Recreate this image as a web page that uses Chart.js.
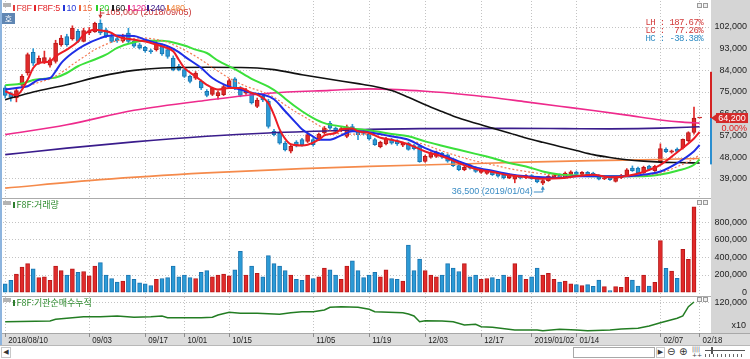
<!DOCTYPE html>
<html lang="ko"><head><meta charset="utf-8">
<script src="https://cdn.jsdelivr.net/npm/chart.js@4.4.1/dist/chart.umd.min.js"></script>
<style>
html,body{margin:0;padding:0;background:#fff;}
#wrap{position:relative;width:750px;height:359px;overflow:hidden;font-family:"Liberation Sans",Arial,sans-serif;}
.a{position:absolute;}
canvas{position:absolute;left:0;}
.kr{font-family:"Noto Sans CJK KR","Liberation Sans",sans-serif;}
.lg{position:absolute;top:3px;font-size:9px;line-height:10px;white-space:nowrap;letter-spacing:-0.2px;}
.lg i{display:inline-block;width:2px;height:6px;margin-right:1.5px;}
.pl{position:absolute;font-size:9px;line-height:10px;white-space:nowrap;color:#2e8b2e;}
.pl i{display:inline-block;width:2px;height:6px;margin-right:1.5px;background:#2e7d2e;}
.stat{position:absolute;right:47px;font-size:9px;line-height:9px;white-space:pre;font-family:"Liberation Mono",monospace;letter-spacing:-0.6px;}
.ico{position:absolute;width:3px;height:3px;border:1px solid #9a9a9a;background:#eee;}
.gic{position:absolute;width:8px;height:4px;background:#b3b3b3;}
</style></head><body>
<div id="wrap">
<div class="a" style="left:711px;top:0;width:39px;height:333px;background:#d5d5d5"></div>
<div class="a" style="left:0;top:333px;width:750px;height:12px;background:#dcdcdc;border-top:1px solid #a8a8a8;box-sizing:border-box"></div>
<canvas id="c1" width="750" height="199" style="top:0"></canvas>
<canvas id="c2" width="750" height="98" style="top:199px"></canvas>
<canvas id="c3" width="750" height="48" style="top:297px"></canvas>

<div class="a" style="left:0;top:0;width:2px;height:345px;background:#8db4de"></div>
<div class="a" style="left:2px;top:198px;width:709px;height:1px;background:#ababab"></div>
<div class="a" style="left:2px;top:296px;width:709px;height:1px;background:#ababab"></div>

<!-- legend -->
<div class="gic" style="left:3px;top:3px"></div>
<div class="lg" style="left:13px;color:#e33b3b"><i style="background:#e33b3b"></i>F8F</div>
<div class="lg" style="left:34px;color:#e3262b"><i style="background:#e3262b"></i>F8F:5</div>
<div class="lg" style="left:63px;color:#2436d8"><i style="background:#2436d8"></i>10</div>
<div class="lg" style="left:79px;color:#ee6a3c"><i style="background:#ee6a3c"></i>15</div>
<div class="lg" style="left:96px;color:#2ccf2c"><i style="background:#2ccf2c"></i>20</div>
<div class="lg" style="left:112px;color:#222"><i style="background:#222"></i>60</div>
<div class="lg" style="left:128px;color:#e5268a"><i style="background:#e5268a"></i>120</div>
<div class="lg" style="left:147px;color:#3a1d8a"><i style="background:#3a1d8a"></i>240</div>
<div class="lg" style="left:167px;color:#f0883e"><i style="background:#f0883e"></i>480</div>
<div class="a kr" style="left:2px;top:13px;width:13px;height:11px;background:#5f86b3;color:#fff;font-size:8px;line-height:11px;text-align:center">호</div>

<div class="stat" style="top:19px;color:#d23a3a">LH : 187.67%</div>
<div class="stat" style="top:27px;color:#d23a3a">LC :  77.26%</div>
<div class="stat" style="top:35px;color:#2f8cc4">HC : -38.38%</div>

<div class="ico" style="left:697px;top:3px"></div><div class="ico" style="left:703px;top:3px"></div>
<div class="ico" style="left:697px;top:200px"></div><div class="ico" style="left:703px;top:200px"></div>
<div class="ico" style="left:697px;top:297px"></div><div class="ico" style="left:703px;top:297px"></div>

<div class="gic" style="left:3px;top:201px"></div>
<div class="pl kr" style="left:13px;top:200px"><i></i>F8F:거래량</div>
<div class="gic" style="left:3px;top:298px"></div>
<div class="pl kr" style="left:13px;top:298px"><i></i>F8F:기관순매수누적</div>

<!-- bottom bar -->
<div class="a" style="left:0;top:345px;width:750px;height:14px;background:#fff;border-top:1px solid #b8b8b8;box-sizing:border-box"></div>
<div class="a" style="left:1px;top:347px;width:10px;height:11px;border:1px solid #c8c8c8;box-sizing:border-box;font-size:7px;line-height:9px;text-align:center;color:#333;font-family:'DejaVu Sans'">◀</div>
<div class="a" style="left:573px;top:347px;width:82px;height:11px;border:1px solid #a8a8a8;box-sizing:border-box;background:#fff"></div>
<div class="a" style="left:656px;top:347px;width:9px;height:11px;border:1px solid #c8c8c8;box-sizing:border-box;font-size:7px;line-height:9px;text-align:center;color:#333;font-family:'DejaVu Sans'">▶</div>
<div class="a" style="left:667px;top:345px;font-size:10px;line-height:13px;color:#333;font-family:'DejaVu Sans'">⊖</div>
<div class="a" style="left:679px;top:345px;font-size:10px;line-height:13px;color:#333;font-family:'DejaVu Sans'">⊕</div>
<div class="a" style="left:692px;top:346px;font-size:6px;line-height:6px;color:#444;font-family:'DejaVu Sans'">||||<br>++</div>
<div class="a" style="left:705px;top:350px;width:40px;height:1px;background:#555"></div>
<div class="a" style="left:711px;top:347px;width:2px;height:7px;background:#555"></div>
<div class="a" style="left:705px;top:354px;width:40px;height:3px;background:repeating-linear-gradient(90deg,#666 0 1px,transparent 1px 4px)"></div>
</div>

<script>
// ---------- data ----------
const dateIdx = [0,15,25,32,40,55,65,75,85,94,102,117,124];
const dateLabels = ['2018/08/10','09/03','09/17','10/01','10/15','11/05','11/19','12/03','12/17','2019/01/02','01/14','02/07','02/18'];
const priceTicks = [39000,48000,57000,66000,75000,84000,93000,102000];
const volumeTicks = [0,200000,400000,600000,800000];
const cumTicks = [120000];
const cumUnit = 'x10';

const opens = [76700,74200,72500,77800,82900,91500,87000,87200,86100,87700,
94600,98000,97000,100200,96000,99500,100000,103500,100800,98000,
97200,96100,99500,96000,94600,93600,92000,92600,94000,92600,
89100,85700,84300,81500,80800,79400,75300,74000,73500,73900,
77300,80500,76700,74500,74200,69000,73200,71100,58700,58000,
53800,50400,54200,55200,54500,55200,55300,58000,62000,60000,
59000,56600,60600,58700,58800,57500,55200,52300,53400,55200,
54800,52900,53800,52800,52600,46200,47900,48300,49500,48900,
46900,44500,42800,44800,43700,41600,41200,42000,41300,40600,
39300,38800,40000,39300,40300,39200,37100,38200,39600,40500,
39800,40800,41800,40800,41600,41300,40400,38900,39500,37900,
39300,40400,43400,43400,41400,44200,42300,46000,51200,50000,
51300,51800,54800,58200,64200];
const highs = [77700,75000,76500,82200,91200,93000,90000,92000,89200,96500,
98500,99000,102500,101000,101500,101800,104000,105000,101500,99000,
98000,99000,101500,96500,95200,94000,92800,96000,95000,93500,
90000,86500,85000,82000,83500,80000,76000,77000,75500,78000,
80500,81000,77300,76500,75000,72500,74000,72000,59500,58700,
54500,53000,54800,55800,58000,56000,58000,60700,62800,60500,
60500,61300,61600,59500,59500,58000,55800,54600,56200,55800,
55200,54200,54200,53300,53000,48800,50200,50500,50000,49300,
47300,45000,44200,45300,44000,43000,42500,42400,41700,41000,
41000,40600,40400,40700,40700,39500,38600,40400,41000,41000,
41800,42300,42200,42000,42000,41700,40700,39800,39800,39700,
40800,43200,44300,43800,44200,44600,44600,53500,51800,50900,
51800,55500,58500,68700,64200];
const lows = [72500,71200,70900,77000,82000,86000,86500,86800,85300,87000,
94000,94000,96500,95500,95800,98800,99800,98800,97600,95500,
95600,95600,95500,93500,92800,91500,91000,92000,90200,89000,
83800,83800,81000,78800,80200,76000,73000,73500,72000,73500,
77000,76000,73000,74000,70000,68500,71000,60000,56800,53300,
50500,49700,52200,52500,54000,52500,54800,57500,59500,58000,
58500,56000,59000,55200,57200,55000,52800,51800,53000,53300,
52800,52300,50800,51000,45800,45800,47500,47800,47400,45800,
44000,42300,42300,43000,41600,41200,40800,40300,39600,38900,
39000,37300,38900,39000,38700,37300,36500,37900,39200,39000,
39500,40500,40500,40500,40400,40300,38500,38600,38300,37600,
39000,40200,42000,41000,41200,42500,42000,45600,49800,49600,
49800,51300,54300,57500,64200];
const closes = [73600,72800,75600,81500,90500,87000,89000,89300,88400,95300,
97400,94700,101500,96000,100500,100400,103500,99500,98300,96000,
96200,98000,96000,94000,93300,92200,91800,95300,90800,89800,
84300,84300,81500,79400,82900,76700,73600,76500,74800,77300,
79700,76700,73600,75600,70500,71700,71700,60700,57300,53800,
51000,52400,52800,53100,57300,53100,57500,60000,60000,58600,
59800,60500,59400,57300,57800,55500,53100,54100,55500,53800,
53400,53700,51200,51500,46100,48300,49700,50100,47900,46300,
44400,42800,43700,43400,42000,42700,42000,40700,40000,39300,
40400,40100,39300,40300,39000,37700,38200,40000,40500,39400,
41300,41900,40800,41600,40700,40600,38800,39400,38600,39400,
40400,42700,42300,41400,43700,42900,44100,51500,50200,50600,
50300,55300,58200,64200,64200];
const volumes = [100000,140000,210000,290000,330000,270000,170000,180000,140000,300000,
250000,200000,270000,230000,240000,190000,300000,340000,200000,160000,
120000,130000,200000,150000,110000,100000,80000,150000,160000,170000,
300000,180000,200000,170000,160000,230000,250000,180000,200000,210000,
190000,260000,470000,200000,300000,220000,180000,420000,330000,300000,
250000,200000,150000,140000,200000,160000,180000,280000,260000,200000,
150000,300000,360000,250000,170000,200000,230000,180000,260000,160000,
150000,130000,540000,250000,380000,250000,200000,180000,200000,330000,
280000,240000,330000,180000,200000,150000,160000,170000,150000,200000,
180000,330000,200000,150000,180000,280000,200000,220000,150000,120000,
130000,100000,90000,80000,90000,70000,143000,67000,22000,67000,
60000,174000,143000,75000,200000,75000,117000,590000,276000,245000,
162000,492000,378000,976000,0];

// moving averages: [index, value]
const ma5 = [[0,75300],[2,73600],[4,80100],[5,85000],[6,87000],[8,87700],[9,89800],[11,92600],[13,96000],[14,98800],[16,100900],[18,100200],[19,99500],[20,98100],[23,96700],[25,96000],[27,94700],[28,94000],[30,91900],[31,88400],[32,85000],[34,81500],[36,78000],[38,76000],[40,76700],[42,76700],[44,74600],[45,73900],[47,70400],[48,65500],[49,59500],[50,55500],[51,53300],[53,52800],[54,53100],[56,55200],[57,57000],[59,58000],[60,59400],[62,59800],[63,58700],[65,58000],[67,56000],[69,55200],[72,53300],[75,50300],[78,48300],[81,45500],[84,43000],[87,41800],[90,40400],[93,39700],[96,39000],[99,39200],[102,40000],[105,40600],[108,39600],[111,40100],[114,41800],[117,44700],[120,50000],[123,55700],[124,58400]];
const ma10 = [[0,76000],[2,76700],[4,77400],[6,80100],[8,80800],[9,83600],[10,87000],[12,91200],[14,94300],[17,97400],[19,98500],[21,98400],[23,98300],[25,96700],[27,95400],[29,94000],[31,91600],[32,89800],[35,85000],[37,80800],[40,77200],[42,76000],[44,74600],[46,73900],[48,72000],[50,67000],[52,62000],[53,59500],[55,56500],[56,55200],[58,55200],[60,57000],[62,58700],[64,58600],[66,57900],[69,56600],[72,55200],[75,51700],[78,49000],[81,46200],[84,43700],[87,42300],[90,40900],[93,40000],[96,39600],[99,39300],[102,40000],[105,40000],[108,40000],[111,40000],[114,40700],[117,42000],[120,45500],[123,50400],[124,53000]];
const ma15 = [[0,76000],[3,77000],[6,79000],[8,80500],[10,83000],[12,86400],[14,89500],[16,92600],[18,94800],[20,96300],[23,97300],[25,97400],[27,96800],[29,95600],[31,93600],[33,91200],[35,88400],[37,85200],[40,80800],[43,77400],[46,75000],[48,72800],[50,69600],[52,66600],[54,63900],[57,59900],[60,57600],[63,57500],[66,57300],[69,56800],[72,55000],[75,53100],[78,50500],[81,48300],[84,46300],[87,44800],[90,43200],[93,42000],[96,41000],[99,40200],[102,40000],[105,40000],[108,40000],[111,40000],[114,40400],[117,41400],[120,44000],[123,47300],[124,49000]];
const ma20 = [[0,77800],[3,78500],[5,80000],[7,80500],[9,81000],[11,82900],[13,85700],[16,88500],[18,90500],[20,93300],[23,95700],[26,96300],[28,96300],[30,95600],[32,94300],[34,92600],[36,91200],[38,88000],[41,84500],[44,80500],[47,77200],[49,74200],[50,72200],[53,67000],[55,64200],[57,62100],[60,60700],[62,59900],[64,59300],[66,58700],[69,57600],[72,56600],[75,54500],[78,52700],[81,51000],[84,49300],[87,47600],[90,45500],[93,44100],[96,42000],[99,40700],[102,40300],[105,40000],[108,40000],[111,40000],[114,40000],[117,40700],[120,42300],[123,44800],[124,47000]];
const ma60 = [[0,71800],[5,75000],[11,78000],[17,81500],[23,84000],[28,85000],[36,85300],[41,85200],[45,85000],[48,84300],[53,82200],[58,80300],[63,78500],[66,77300],[69,75600],[72,72800],[75,69700],[78,66900],[81,64200],[84,62000],[87,60000],[90,58000],[93,55900],[96,54100],[99,52400],[102,50700],[105,49000],[108,47800],[111,46900],[114,46300],[117,45900],[120,45700],[124,45500]];
const ma120 = [[0,57300],[11,61400],[23,67400],[36,71600],[47,74500],[58,75700],[65,76300],[70,76000],[75,75300],[81,74200],[87,72700],[93,70900],[99,69100],[105,67300],[111,65400],[117,63400],[121,62500],[124,62100]];
const ma240 = [[0,49000],[11,51700],[23,54300],[36,56600],[47,58000],[58,58900],[65,59500],[75,59800],[90,59900],[100,59800],[108,59700],[113,59800],[117,60000],[124,60600]];
const ma480 = [[0,35100],[17,38600],[36,41400],[53,43200],[65,44100],[81,45100],[93,45900],[105,46500],[117,47000],[124,47400]];
const cumPts = [[0,19600],[8,23300],[9,32300],[11,37600],[14,46000],[17,46000],[20,49700],[23,42900],[26,46000],[28,49700],[29,40700],[35,40700],[37,42900],[38,55000],[40,69300],[42,64000],[45,64000],[49,58700],[51,67100],[53,72400],[55,72400],[57,81400],[58,95600],[60,98800],[63,95600],[65,85100],[66,72400],[71,67100],[72,60300],[73,49700],[74,19600],[75,25000],[78,23300],[80,19600],[82,2200],[84,5900],[85,-6700],[87,-9900],[91,-24200],[95,-24200],[96,-27900],[99,-20500],[102,-24200],[104,-27900],[108,-24200],[110,-18900],[113,-15200],[115,-3100],[117,14400],[120,37600],[121,49700],[122,98800],[123,123600]];

const highMark = {idx:17, value:105000, text:'105,000 (2018/09/05)'};
const lowMark = {idx:96, value:36500, text:'36,500 (2019/01/04)'};
const lastPrice = 64200, changePct = '0.00%', limitUp = 83400, limitDown = 44950;

// ---------- helpers ----------
const fmt = v => String(v).replace(/\B(?=(\d{3})+(?!\d))/g, ',');
const idx = opens.map((_, i) => i);
const isUp = idx.map(i => closes[i] >= opens[i]);
const fillCol = isUp.map(u => u ? '#e12a2a' : '#2b9ad6');
const edgeCol = isUp.map(u => u ? '#b81818' : '#1a74b0');
const X_MIN = -0.393, X_MAX = 125.857;
const GRID = '#c3c3c3';
const FONT = '9px "Liberation Sans"';

function xAxis(extra) {
  return Object.assign({
    type: 'linear', min: X_MIN, max: X_MAX, offset: false,
    afterBuildTicks: s => { s.ticks = dateIdx.map(v => ({value: v})); },
    ticks: {display: false},
    grid: {color: GRID, lineWidth: 1, drawTicks: false, offset: false},
    border: {display: false, dash: [1, 2]}
  }, extra || {});
}
function yAxis(min, max, ticks, gridColor) {
  return {
    position: 'right', min: min, max: max,
    afterBuildTicks: s => { s.ticks = ticks.map(v => ({value: v})); },
    afterFit: s => { s.width = 40; },
    ticks: {display: false},
    grid: {color: gridColor || GRID, drawTicks: false},
    border: {display: false, dash: [1, 2]}
  };
}
function baseOpts(pad, scales) {
  return {responsive: false, animation: false, devicePixelRatio: 1, events: [],
    layout: {padding: pad},
    plugins: {legend: {display: false}, tooltip: {enabled: false}},
    scales: scales};
}
function lineDs(pts, color, width, dash) {
  return {type: 'line', data: pts.map(p => ({x: p[0], y: p[1]})), borderColor: color, borderWidth: width,
    borderDash: dash || [], pointRadius: 0, fill: false, cubicInterpolationMode: 'monotone', order: 0};
}
function drawRightLabels(ctx, scale, items) {
  ctx.save();
  ctx.font = FONT; ctx.fillStyle = '#1e1e1e'; ctx.textAlign = 'right'; ctx.textBaseline = 'middle';
  items.forEach(v => ctx.fillText(fmt(v), 747, scale.getPixelForValue(v)));
  ctx.restore();
}

// ---------- price chart ----------
const priceDeco = {
  id: 'priceDeco',
  afterDraw(chart) {
    const {ctx} = chart, x = chart.scales.x, y = chart.scales.y;
    drawRightLabels(ctx, y, priceTicks);
    ctx.save();
    const yc = y.getPixelForValue(lastPrice), yu = y.getPixelForValue(limitUp), yl = y.getPixelForValue(limitDown);
    ctx.fillStyle = '#d42222'; ctx.fillRect(710, yu, 2, yc - yu);
    ctx.fillStyle = '#2a8ed0'; ctx.fillRect(710, yc, 2, yl - yc);
    ctx.fillStyle = '#d42a2a';
    ctx.beginPath(); ctx.moveTo(711, yc); ctx.lineTo(716, yc - 3.5); ctx.lineTo(716, yc + 3.5); ctx.closePath(); ctx.fill();
    ctx.fillRect(716, yc - 5, 32, 10);
    ctx.font = FONT; ctx.textBaseline = 'middle';
    ctx.fillStyle = '#fff'; ctx.textAlign = 'center'; ctx.fillText(fmt(lastPrice), 732, yc);
    ctx.fillStyle = '#e02020'; ctx.textAlign = 'right'; ctx.fillText(changePct, 747, yc + 10);
    // high annotation
    const xh = x.getPixelForValue(highMark.idx), yh = y.getPixelForValue(highMark.value);
    ctx.strokeStyle = '#c83434'; ctx.fillStyle = '#c83434'; ctx.lineWidth = 1;
    ctx.beginPath(); ctx.moveTo(xh, 8); ctx.lineTo(xh, yh - 3); ctx.moveTo(xh, 13); ctx.lineTo(xh + 4, 13); ctx.stroke();
    ctx.beginPath(); ctx.moveTo(xh - 2, yh - 5); ctx.lineTo(xh + 2, yh - 5); ctx.lineTo(xh, yh - 1); ctx.closePath(); ctx.fill();
    ctx.textAlign = 'left'; ctx.fillText(highMark.text, xh + 5, 13);
    // low annotation
    const xl = x.getPixelForValue(lowMark.idx), yL = y.getPixelForValue(lowMark.value);
    ctx.strokeStyle = '#3a8cc4'; ctx.fillStyle = '#3a8cc4';
    ctx.beginPath(); ctx.moveTo(xl - 9, 192); ctx.lineTo(xl, 192); ctx.lineTo(xl, yL + 3); ctx.stroke();
    ctx.beginPath(); ctx.moveTo(xl - 2, yL + 5); ctx.lineTo(xl + 2, yL + 5); ctx.lineTo(xl, yL + 1); ctx.closePath(); ctx.fill();
    ctx.textAlign = 'right'; ctx.fillText(lowMark.text, xl - 10, 191.5);
    ctx.restore();
  }
};

new Chart(document.getElementById('c1'), {
  type: 'line',
  data: {datasets: [
    lineDs(ma5, '#ec1c24', 2),
    lineDs(ma10, '#1e2ee6', 2),
    lineDs(ma15, '#f47a55', 1.2, [2, 2]),
    lineDs(ma20, '#3be03b', 2),
    lineDs(ma60, '#111111', 1.6),
    lineDs(ma120, '#ee2a8c', 1.6),
    lineDs(ma240, '#3a1c8c', 1.6),
    lineDs(ma480, '#f58a4b', 1.6),
    {type: 'bar', data: idx.map(i => ({x: i, y: [opens[i], closes[i]]})), backgroundColor: fillCol, borderColor: edgeCol,
      borderWidth: 1, borderSkipped: false, barThickness: 4, minBarLength: 1, grouped: false, order: 5},
    {type: 'bar', data: idx.map(i => ({x: i, y: [lows[i], highs[i]]})), backgroundColor: fillCol,
      borderWidth: 0, barThickness: 1, grouped: false, order: 6}
  ]},
  options: baseOpts({left: 3, right: 0, top: 1, bottom: 1}, {x: xAxis(), y: yAxis(30985, 112798, priceTicks)}),
  plugins: [priceDeco]
});

// ---------- volume chart ----------
new Chart(document.getElementById('c2'), {
  type: 'line',
  data: {datasets: [
    {type: 'bar', data: idx.map(i => ({x: i, y: volumes[i]})), backgroundColor: fillCol, borderColor: edgeCol,
      borderWidth: 1, borderSkipped: false, barThickness: 4, grouped: false}
  ]},
  options: baseOpts({left: 3, right: 0, top: 1, bottom: 1}, {
    x: xAxis(),
    y: yAxis(-38636, 1052273, volumeTicks, c => (c.tick && c.tick.value === 0) ? 'rgba(0,0,0,0)' : GRID)
  }),
  plugins: [{id: 'volDeco', afterDraw(chart) { drawRightLabels(chart.ctx, chart.scales.y, volumeTicks); }}]
});

// ---------- cumulative chart ----------
new Chart(document.getElementById('c3'), {
  type: 'line',
  data: {datasets: [
    {type: 'line', data: cumPts.map(p => ({x: p[0], y: p[1]})), borderColor: '#237d23', borderWidth: 1.5, pointRadius: 0, fill: false, tension: 0}
  ]},
  options: baseOpts({left: 3, right: 0, top: 0, bottom: 0}, {
    x: xAxis({
      grid: {color: GRID, lineWidth: 1, drawTicks: true, tickLength: 4, tickColor: '#8c8c8c', tickBorderDash: [], tickWidth: 1, offset: false},
      afterFit: s => { s.height = 12; }
    }),
    y: yAxis(-40000, 150000, cumTicks)
  }),
  plugins: [{id: 'cumDeco', afterDraw(chart) {
    const {ctx} = chart, x = chart.scales.x;
    drawRightLabels(ctx, chart.scales.y, cumTicks);
    ctx.save();
    ctx.font = FONT; ctx.fillStyle = '#1e1e1e'; ctx.textBaseline = 'middle';
    ctx.textAlign = 'right'; ctx.fillText(cumUnit, 746, chart.chartArea.bottom - 7);
    ctx.textAlign = 'left';
    dateIdx.forEach((v, k) => {
      const px = x.getPixelForValue(v) + 3;
      ctx.save(); ctx.translate(px, 44); ctx.scale(0.88, 1);
      ctx.fillText(dateLabels[k], 0, 0);
      ctx.restore();
    });
    ctx.restore();
  }}]
});
</script>
</body></html>
